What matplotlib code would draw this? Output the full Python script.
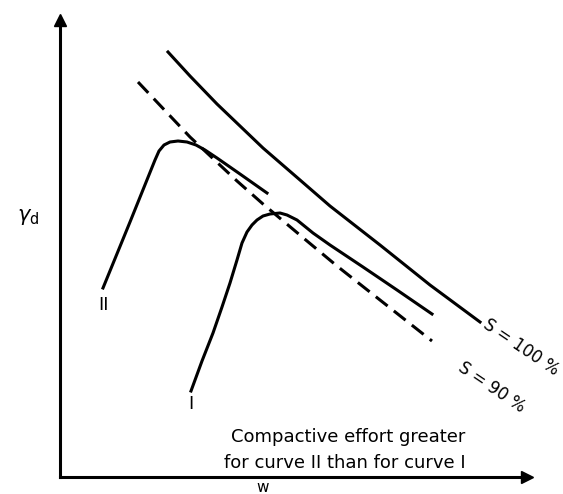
import matplotlib
matplotlib.use("Agg")
import matplotlib.pyplot as plt

# curves, coordinates in picture pixels (y downward)
s100_x = [168, 190, 217, 263, 300, 330, 380, 430, 480]
s100_y = [52, 76, 104, 148, 180, 206, 245, 285, 322]

s90_x = [138, 190, 237, 263, 307, 337, 380, 432]
s90_y = [82, 137, 181, 204, 241, 266, 300, 341]

curve2_x = [103, 130, 155, 159, 164, 170, 178, 187, 196, 205, 217, 240, 267]
curve2_y = [288, 222, 160, 151, 145, 142, 141, 142, 145, 150, 158, 174, 193]

curve1_x = [191, 202, 213, 222, 230, 237, 242, 247, 252, 257, 263, 270, 280,
            287, 297, 313, 330, 363, 397, 432]
curve1_y = [391, 361, 333, 307, 283, 260, 243, 232, 225, 220, 216, 214, 213,
            215, 220, 233, 245, 267, 290, 314]

lw = 2.2

fig = plt.figure(figsize=(5.63, 4.94), dpi=100)
W, H = 563, 494
x0, x1, y0, y1 = 60, 527, 477, 20
ax = fig.add_axes([x0 / W, (H - y0) / H, (x1 - x0) / W, (y0 - y1) / H])
ax.set_xlim(x0, x1)
ax.set_ylim(y0, y1)
ax.set_xticks([])
ax.set_yticks([])
for s in ("top", "right"):
    ax.spines[s].set_visible(False)
for s in ("left", "bottom"):
    ax.spines[s].set_linewidth(lw)

# arrow heads
ax.plot(1, 0, ">k", ms=8, transform=ax.transAxes, clip_on=False)
ax.plot(0, 1, "^k", ms=8, transform=ax.transAxes, clip_on=False)

ax.plot(s100_x, s100_y, color="k", lw=lw, solid_joinstyle="round")
ax.plot(s90_x, s90_y, color="k", lw=lw, linestyle=(0, (4.9, 2.6)))
ax.plot(curve2_x, curve2_y, color="k", lw=lw, solid_joinstyle="round")
ax.plot(curve1_x, curve1_y, color="k", lw=lw, solid_joinstyle="round")

ax.text(103, 305, "II", fontsize=13, ha="center", va="center", clip_on=False)
ax.text(191, 404, "I", fontsize=13, ha="center", va="center", clip_on=False)
ax.text(28, 217, r"$\gamma_{\rm d}$", fontsize=15, ha="center", va="center", clip_on=False)
ax.text(263, 480, "w", fontsize=11, ha="center", va="top", clip_on=False)

ax.text(521, 347, "S = 100 %", fontsize=12, rotation=-34, rotation_mode="anchor",
        ha="center", va="center", clip_on=False)
ax.text(492, 387, "S = 90 %", fontsize=12, rotation=-34, rotation_mode="anchor",
        ha="center", va="center", clip_on=False)

ax.text(348, 437, "Compactive effort greater", fontsize=13, ha="center", va="center")
ax.text(345, 463, "for curve II than for curve I", fontsize=13, ha="center", va="center")

fig.savefig("out.png", dpi=100)
